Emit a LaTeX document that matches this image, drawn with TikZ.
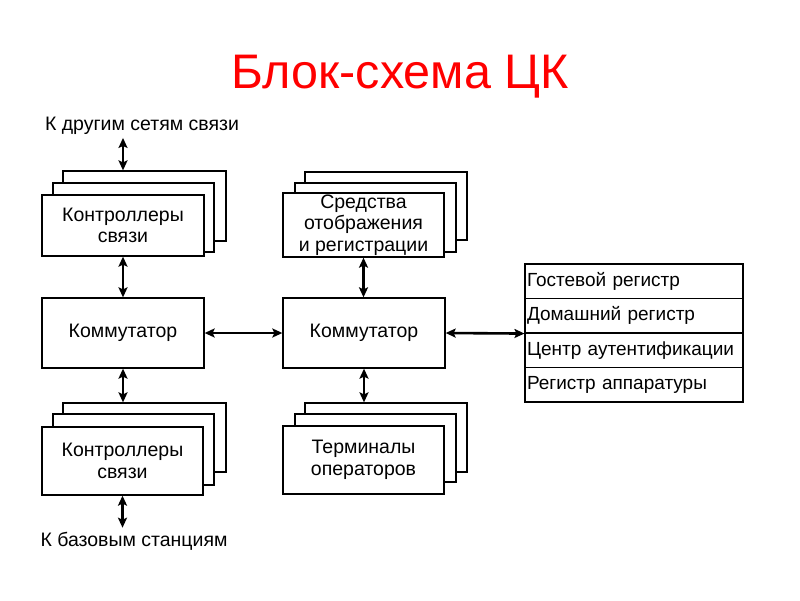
\documentclass[tikz,border=0pt]{standalone}
\usepackage{fontspec}
\setmainfont{Liberation Sans}
\usetikzlibrary{arrows.meta}
\begin{document}
\begin{tikzpicture}[x=1pt,y=-1pt,
  box/.style={draw=black,line width=1.3pt,fill=white,inner sep=0pt,align=center,
    font=\fontsize{19.5}{21.5}\selectfont},
  row/.style={draw=black,line width=1.1pt,fill=white,inner sep=0pt,minimum width=218pt,
    minimum height=34.5pt,text width=214pt,align=left,font=\fontsize{19}{21}\selectfont},
  lbl/.style={inner sep=0pt,font=\fontsize{19.5}{21}\selectfont},
  arr/.style={line width=2.6pt,{Stealth[length=10pt,width=9pt,inset=2pt]}-{Stealth[length=10pt,width=9pt,inset=2pt]}}]
\useasboundingbox (0,0) rectangle (800,600);
\node[text=red,font=\fontsize{48.5}{56}\selectfont] (title) at (400,77) {Блок-схема ЦК};
% labels
\node[lbl] (tl) at (142,126) {К другим сетям связи};
\node[lbl] (bl) at (134,541) {К базовым станциям};
% top-left stack
\node[box,minimum width=163pt,minimum height=70pt] (lc3) at (144.5,206) {};
\node[box,minimum width=161pt,minimum height=69pt] (lc2) at (133.5,217.5) {};
\node[box,minimum width=162pt,minimum height=61pt] (lc1) at (123,225.5) {Контроллеры\\связи};
% top-middle stack
\node[box,minimum width=162pt,minimum height=68pt] (mc3) at (386,206) {};
\node[box,minimum width=161pt,minimum height=69pt] (mc2) at (375.5,217.5) {};
\node[box,minimum width=161pt,minimum height=64pt] (mc1) at (363.5,225) {Средства\\отображения\\и регистрации};
% switches
\node[box,minimum width=162pt,minimum height=70pt] (cl) at (123,333) {Коммутатор};
\node[box,minimum width=162pt,minimum height=70pt] (cr) at (364,333) {Коммутатор};
% bottom-left stack
\node[box,minimum width=163pt,minimum height=69pt] (lb3) at (144.5,437.5) {};
\node[box,minimum width=161pt,minimum height=71pt] (lb2) at (133.5,449.5) {};
\node[box,minimum width=161pt,minimum height=68pt] (lb1) at (122.5,461) {Контроллеры\\связи};
% bottom-middle stack
\node[box,minimum width=162pt,minimum height=69pt] (mb3) at (386,437.5) {};
\node[box,minimum width=161pt,minimum height=68pt] (mb2) at (375.5,448) {};
\node[box,minimum width=161pt,minimum height=68pt] (mb1) at (363.5,460) {Терминалы\\операторов};
% registers table
\node[row] (r1) at (634,281.25) {Гостевой регистр};
\node[row] (r2) at (634,315.75) {Домашний регистр};
\node[row] (r3) at (634,350.25) {Центр аутентификации};
\node[row] (r4) at (634,384.75) {Регистр аппаратуры};
% connectors
\draw[arr] ([yshift=-3pt]lc1.north |- tl.south) -- (lc1.north |- lc3.north);
\draw[arr] (lc1.south) -- (cl.north);
\draw[arr] (cl.south) -- (cl.south |- lb3.north);
\draw[arr] (lb1.south) -- ([yshift=4pt]lb1.south |- bl.north);
\draw[arr] (mc1.south) -- (mc1.south |- cr.north);
\draw[arr] (cr.south) -- (cr.south |- mb3.north);
\draw[arr] (cl.east) -- (cr.west);
\draw[arr] (cr.east) -- (r2.south west);
\end{tikzpicture}
\end{document}
